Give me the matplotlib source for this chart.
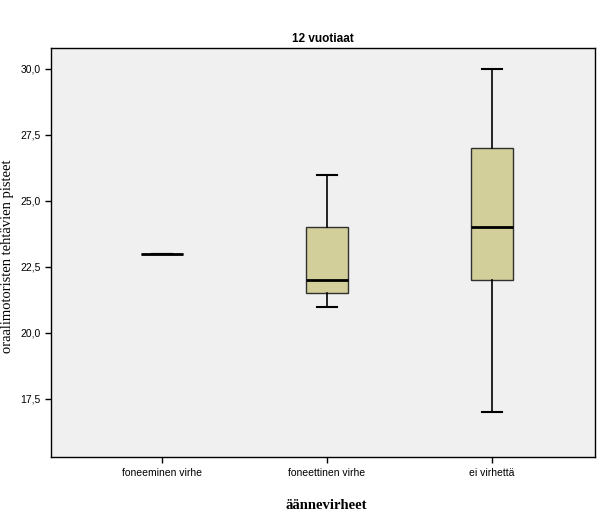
import matplotlib
matplotlib.use("Agg")
import matplotlib.pyplot as plt

categories = ["foneeminen virhe", "foneettinen virhe", "ei virhettä"]
whislo = [23.0, 21.0, 17.0]
q1 = [23.0, 21.5, 22.0]
med = [23.0, 22.0, 24.0]
q3 = [23.0, 24.0, 27.0]
whishi = [23.0, 26.0, 30.0]
yticks = [17.5, 20.0, 22.5, 25.0, 27.5, 30.0]

plt.rcParams['font.family'] = ['Liberation Sans', 'DejaVu Sans']

fig = plt.figure(figsize=(6.13, 5.15), dpi=100)
ax = fig.add_axes([0.0832, 0.1126, 0.8874, 0.7942])
ax.set_facecolor("#f0f0f0")

stats = []
for i, name in enumerate(categories):
    stats.append(dict(label=name, whislo=whislo[i], q1=q1[i], med=med[i],
                      q3=q3[i], whishi=whishi[i], fliers=[]))

positions = [1, 2, 3]
ax.bxp(stats, positions=positions, widths=0.255, patch_artist=True,
       showfliers=False,
       boxprops=dict(facecolor="#d3cf9a", edgecolor="#303030", linewidth=1.0),
       medianprops=dict(color="black", linewidth=2.0),
       whiskerprops=dict(color="black", linewidth=1.2),
       capprops=dict(color="black", linewidth=1.5),
       capwidths=0.122)

ax.set_xlim(0.327, 3.624)
ax.set_ylim(15.30, 30.795)
ax.set_yticks(yticks)
ax.set_yticklabels([f"{v:.1f}".replace(".", ",") for v in yticks])
ax.set_xticks(positions)
ax.set_xticklabels(categories)
ax.tick_params(axis="both", labelsize=7.5, length=4, width=1, color="black")
ax.tick_params(axis="x", pad=4)

for s in ax.spines.values():
    s.set_linewidth(1.0)
    s.set_color("black")

ax.set_title("12 vuotiaat", fontsize=8.5, fontweight="bold", pad=4)
ax.set_ylabel("oraalimotoristen tehtävien pisteet", family="Liberation Serif",
              fontsize=10.5)
ax.yaxis.set_label_coords(-0.068, 0.49)
fig.text(0.532, 0.019, "äännevirheet", family="Liberation Serif",
         fontsize=10.5, fontweight="bold", ha="center", va="center")

fig.savefig("out.png", dpi=100)
